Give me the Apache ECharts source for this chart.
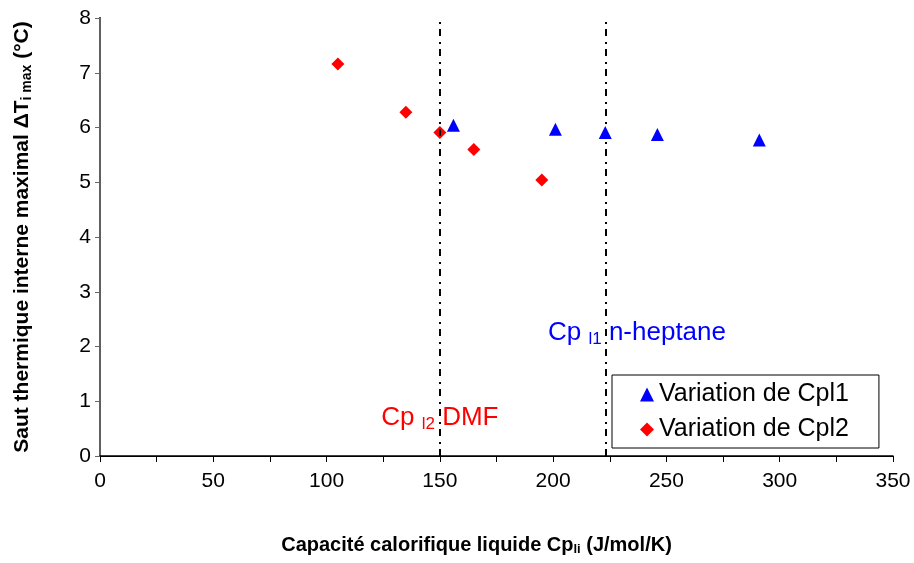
<!DOCTYPE html>
<html>
<head>
<meta charset="utf-8">
<script src="https://cdn.jsdelivr.net/npm/echarts@6/dist/echarts.min.js"></script>
<style>
html,body{margin:0;padding:0;background:#fff;}
#chart{width:914px;height:563px;}
</style>
</head>
<body>
<div id="chart"></div>
<script>
// Data
const cpl1X = [156, 201, 223, 246, 291];
const cpl1Y = [6.04, 5.97, 5.91, 5.87, 5.77];
const cpl2X = [105, 135, 150, 165, 195];
const cpl2Y = [7.16, 6.28, 5.91, 5.60, 5.04];
const refLinesX = [150, 223];            // Cp l2 (DMF), Cp l1 (n-heptane)
const annotDMF = [150, 0.69];
const annotHeptane = [237, 2.25];
const seriesNames = ['Variation de Cpl1', 'Variation de Cpl2'];
const xTicks = {min: 0, max: 350, interval: 50};
const yTicks = {min: 0, max: 8, interval: 1};

const FF = '"Liberation Sans", Arial, Helvetica, sans-serif';
const pairs = (xs, ys) => xs.map((x, i) => [x, ys[i]]);

const chart = echarts.init(document.getElementById('chart'), null, {renderer: 'canvas'});
const option = {
  animation: false,
  backgroundColor: '#ffffff',
  textStyle: {fontFamily: FF},
  grid: {left: 100, right: 21, top: 18, bottom: 107, containLabel: false},
  xAxis: [{
    type: 'value', min: xTicks.min, max: xTicks.max, interval: xTicks.interval,
    axisLine: {show: true, onZero: false, lineStyle: {color: '#000', width: 1.5}},
    axisTick: {show: true, length: 6, lineStyle: {color: '#000', width: 1}},
    minorTick: {show: true, splitNumber: 2, length: 6, lineStyle: {color: '#000', width: 1}},
    splitLine: {show: false},
    axisLabel: {color: '#000', fontSize: 21, fontFamily: FF, margin: 15},
    name: '{b|Capacité calorifique liquide Cp}{s|li}{b| (J/mol/K)}',
    nameLocation: 'middle', nameGap: 79,
    nameTextStyle: {
      padding: [0, 40, 0, 0],
      rich: {
        b: {fontSize: 20, fontWeight: 'bold', color: '#000', fontFamily: FF},
        s: {fontSize: 13, fontWeight: 'bold', color: '#000', fontFamily: FF, padding: [8, 0, 0, 0]}
      }
    }
  }, {
    type: 'value', position: 'top', min: xTicks.min, max: xTicks.max,
    axisLine: {show: true, lineStyle: {color: '#000', width: 1}},
    axisTick: {show: false}, axisLabel: {show: false}, splitLine: {show: false}
  }],
  yAxis: [{
    type: 'value', min: yTicks.min, max: yTicks.max, interval: yTicks.interval,
    axisLine: {show: true, onZero: false, lineStyle: {color: '#000', width: 2}},
    axisTick: {show: true, length: 5, lineStyle: {color: '#666', width: 1}},
    splitLine: {show: false},
    axisLabel: {color: '#000', fontSize: 21, fontFamily: FF, margin: 9},
    name: '{b|Saut thermique interne maximal ΔT}{s|i max}{b| (°C)}',
    nameLocation: 'middle', nameGap: 66, nameRotate: 90,
    nameTextStyle: {
      rich: {
        b: {fontSize: 21, fontWeight: 'bold', color: '#000', fontFamily: FF},
        s: {fontSize: 14, fontWeight: 'bold', color: '#000', fontFamily: FF, padding: [9, 0, 0, 0]}
      }
    }
  }, {
    type: 'value', position: 'right', min: yTicks.min, max: yTicks.max,
    axisLine: {show: true, lineStyle: {color: '#808080', width: 1.5}},
    axisTick: {show: false}, axisLabel: {show: false}, splitLine: {show: false}
  }],
  legend: {
    orient: 'vertical', left: 612, top: 375,
    padding: [7, 30, 6, 28], itemGap: 10,
    itemWidth: 14, itemHeight: 14,
    borderColor: '#000', borderWidth: 1, backgroundColor: '#fff',
    textStyle: {fontSize: 25, color: '#000', fontFamily: FF, lineHeight: 25},
    data: [
      {name: seriesNames[0], icon: 'triangle'},
      {name: seriesNames[1], icon: 'diamond'}
    ]
  },
  series: [{
    name: seriesNames[0], type: 'scatter', symbol: 'triangle', symbolSize: 13,
    itemStyle: {color: '#0000ff', opacity: 1},
    data: pairs(cpl1X, cpl1Y),
    z: 5,
    markLine: {
      silent: true, symbol: 'none', animation: false,
      label: {show: false},
      lineStyle: {color: '#000', width: 2, type: [7, 5, 2, 6]},
      data: refLinesX.map(x => ({xAxis: x}))
    },
    markPoint: {
      symbol: 'circle', symbolSize: 1,
      itemStyle: {color: 'rgba(0,0,0,0)'},
      label: {
        show: true, position: 'inside',
        formatter: '{a|Cp }{s|l1}{a| n-heptane}',
        rich: {
          a: {fontSize: 26, color: '#0000ff', fontFamily: FF},
          s: {fontSize: 17, color: '#0000ff', fontFamily: FF, padding: [12, 0, 0, 0]}
        }
      },
      data: [{coord: annotHeptane}]
    }
  }, {
    name: seriesNames[1], type: 'scatter', symbol: 'diamond', symbolSize: 13,
    itemStyle: {color: '#ff0000', opacity: 1},
    data: pairs(cpl2X, cpl2Y),
    z: 4,
    markPoint: {
      symbol: 'circle', symbolSize: 1,
      itemStyle: {color: 'rgba(0,0,0,0)'},
      label: {
        show: true, position: 'inside',
        formatter: '{a|Cp }{s|l2}{a| DMF}',
        rich: {
          a: {fontSize: 26, color: '#ff0000', fontFamily: FF},
          s: {fontSize: 17, color: '#ff0000', fontFamily: FF, padding: [12, 0, 0, 0]}
        }
      },
      data: [{coord: annotDMF}]
    }
  }]
};
chart.setOption(option);
</script>
</body>
</html>
